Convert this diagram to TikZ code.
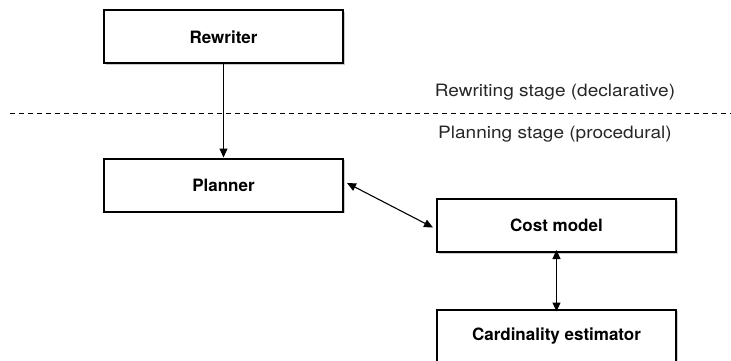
\documentclass[tikz,border=0pt]{standalone}
\usepackage{fontspec}
\setmainfont{TeX Gyre Heros}
\newfontfamily\lblfont[FakeStretch=1.12]{TeX Gyre Heros}
\usetikzlibrary{arrows.meta,shadows}
\begin{document}
\begin{tikzpicture}[x=1pt,y=-1pt,
  box/.style={draw=black,line width=2pt,fill=white,minimum width=239pt,minimum height=53pt,inner sep=0pt,
    font=\fontsize{17}{20}\selectfont\bfseries,
    drop shadow={shadow xshift=1.5pt,shadow yshift=-1.5pt,opacity=0.35,fill=black!60}},
  conn/.style={line width=1.1pt,-{Triangle[length=9pt,width=8pt]}},
  biconn/.style={line width=1.1pt,{Triangle[length=9pt,width=8pt]}-{Triangle[length=9pt,width=8pt]}},
  lbl/.style={font=\lblfont\fontsize{17}{20}\selectfont,inner sep=0pt,text=black!85}]
\useasboundingbox (0,0) rectangle (731,361);
\node[box] (rw) at (223.5,37) {Rewriter};
\node[box] (pl) at (223.5,185) {Planner};
\node[box] (cm) at (556.5,225.5) {Cost model};
\node[box] (ce) at (556.5,336) {Cardinality estimator};
\coordinate (dl) at (10,113);
\coordinate (dr) at (731,113);
\draw[line width=0.9pt,dash pattern=on 5pt off 4pt] (dl) -- (dr);
\node[lbl] (t1) at (555,92.5) {Rewriting stage (declarative)};
\node[lbl] (t2) at (555,134) {Planning stage (procedural)};
\draw[conn] (rw.south) -- (pl.north);
\draw[biconn] ([xshift=3pt,yshift=2pt]pl.east) -- ([xshift=-3pt,yshift=-2pt]cm.west);
\draw[biconn] ([yshift=3pt]cm.south) -- ([yshift=-3pt]ce.north);
\end{tikzpicture}
\end{document}
